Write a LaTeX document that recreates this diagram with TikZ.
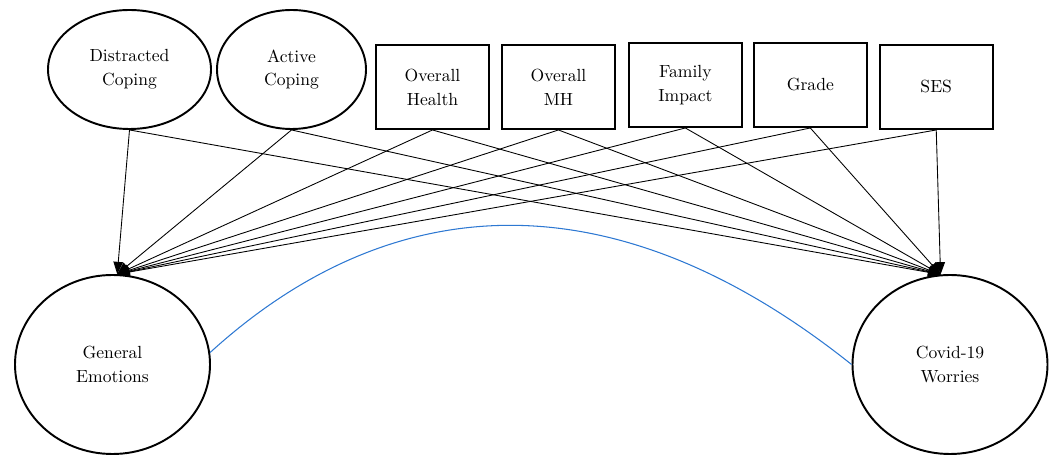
\documentclass[tikz,border=0pt]{standalone}
\usepackage{xcolor}
\usepackage{tikz}
\usetikzlibrary{positioning, arrows.meta, shapes.geometric}

\definecolor{corrblue}{RGB}{45,120,210}

\begin{document}
\begin{tikzpicture}[
        latent/.style={draw, ellipse, line width=1.1pt, inner sep=0pt, align=center, font=\fontsize{10}{13.6}\selectfont},
        observed/.style={draw, rectangle, line width=1.1pt, minimum width=2.26cm, minimum height=1.68cm, inner sep=0pt, align=center, font=\fontsize{10}{13.6}\selectfont},
        path/.style={-{Triangle[length=7pt, width=5.5pt]}, line width=0.5pt, black},
        corr/.style={line width=0.6pt, corrblue}
    ]
    \useasboundingbox (0,0) rectangle (21.1,-9.1);

    % Top row - coping
    \node[latent, minimum width=3.26cm, minimum height=2.38cm] (dcope) at (2.59,-1.39) {Distracted\\Coping};
    \node[latent, minimum width=2.98cm, minimum height=2.38cm] (acope) at (5.83,-1.39) {Active\\Coping};

    % Top row - observed
    \node[observed] (ohealth) at (8.65,-1.74) {Overall\\Health};
    \node[observed, right=0.22cm of ohealth] (omh) {Overall\\MH};
    \node[observed, right=0.24cm of omh, yshift=0.04cm] (famimp) {Family\\Impact};
    \node[observed, right=0.2cm of famimp] (grade) {Grade};
    \node[observed, right=0.22cm of grade, yshift=-0.04cm] (ses) {SES};

    % Bottom row - outcomes
    \node[latent, minimum width=3.9cm, minimum height=3.58cm] (genemo) at (2.25,-7.29) {General\\Emotions};
    \node[latent, minimum width=3.9cm, minimum height=3.58cm] (covid) at (19.0,-7.29) {Covid-19\\Worries};

    % Paths to General Emotions
    \foreach \src in {dcope, acope, ohealth, omh, famimp, grade, ses}
        \draw[path] (\src.south) -- (genemo.87);

    % Paths to Covid-19 Worries
    \foreach \src in {dcope, acope, ohealth, omh, famimp, grade, ses}
        \draw[path] (\src.south) -- (covid.96);

    % Correlation
    \draw[corr] (genemo.7) .. controls (7.66,-3.90) and (12.08,-3.34) .. (covid.west);

\end{tikzpicture}
\end{document}
